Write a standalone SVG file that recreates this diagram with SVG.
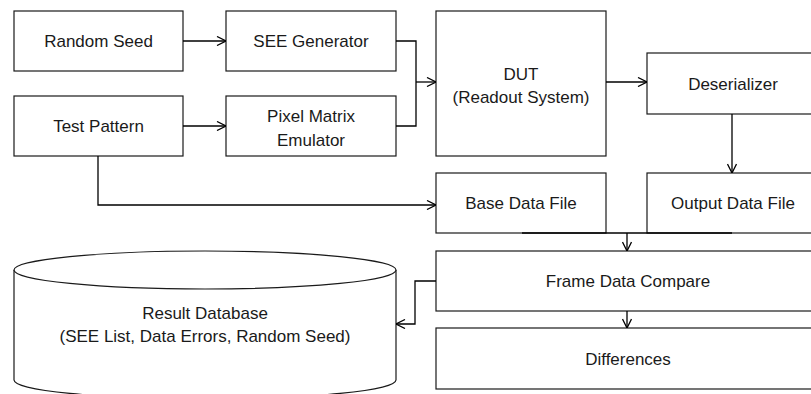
<svg xmlns="http://www.w3.org/2000/svg" width="811" height="394" viewBox="0 0 811 394">
<style>
.box{fill:#fff;stroke:#1a1a1a;stroke-width:1.2}
.t{font-family:"Liberation Sans",Arial,sans-serif;font-size:17px;fill:#1a1a1a;text-anchor:middle}
.c{fill:none;stroke:#000;stroke-width:1.3}
</style>
<defs>
<marker id="ah" viewBox="0 0 10 10" refX="10" refY="5" markerWidth="10" markerHeight="10" markerUnits="userSpaceOnUse" orient="auto">
<path d="M1,0.5 L10,5 L1,9.5" fill="none" stroke="#000" stroke-width="1.3"/>
</marker>
</defs>
<rect width="811" height="394" fill="#fff"/>
<g id="random-seed"><rect class="box" x="14" y="11" width="169" height="60"/><text class="t" x="98.5" y="47">Random Seed</text></g>
<g id="see-generator"><rect class="box" x="226" y="11" width="170" height="60"/><text class="t" x="311" y="47">SEE Generator</text></g>
<g id="test-pattern"><rect class="box" x="14" y="96" width="169" height="60"/><text class="t" x="98.5" y="132">Test Pattern</text></g>
<g id="pixel-matrix"><rect class="box" x="226" y="96" width="170" height="60"/><text class="t" x="311" y="122">Pixel Matrix</text><text class="t" x="311" y="146">Emulator</text></g>
<g id="dut"><rect class="box" x="436" y="11" width="170" height="145"/><text class="t" x="521" y="80">DUT</text><text class="t" x="521" y="103">(Readout System)</text></g>
<g id="deserializer"><rect class="box" x="647" y="53" width="172" height="61"/><text class="t" x="733" y="90">Deserializer</text></g>
<g id="base-data-file"><rect class="box" x="436" y="173" width="170" height="60"/><text class="t" x="521" y="209">Base Data File</text></g>
<g id="output-data-file"><rect class="box" x="647" y="173" width="172" height="60"/><text class="t" x="733" y="209">Output Data File</text></g>
<g id="frame-data-compare"><rect class="box" x="436" y="251" width="386" height="60"/><text class="t" x="628" y="287">Frame Data Compare</text></g>
<g id="differences"><rect class="box" x="436" y="328" width="386" height="61"/><text class="t" x="628" y="365">Differences</text></g>
<g id="result-database">
<path class="box" d="M14,270 L14,380 A191,19 0 0 0 396,380 L396,270"/>
<ellipse class="box" cx="205" cy="270" rx="191" ry="19"/>
<text class="t" x="205" y="319">Result Database</text>
<text class="t" x="205" y="342">(SEE List, Data Errors, Random Seed)</text>
</g>
<g id="connectors">
<path class="c" d="M183,41 H226" marker-end="url(#ah)"/>
<path class="c" d="M183,126 H226" marker-end="url(#ah)"/>
<path class="c" d="M396,41 H416 V126 H396"/>
<path class="c" d="M416,82 H436" marker-end="url(#ah)"/>
<path class="c" d="M606,82 H647" marker-end="url(#ah)"/>
<path class="c" d="M732,114 V173" marker-end="url(#ah)"/>
<path class="c" d="M98,156 V205 H436" marker-end="url(#ah)"/>
<path class="c" d="M522,233 H732"/>
<path class="c" d="M627,233 V251" marker-end="url(#ah)"/>
<path class="c" d="M627,311 V328" marker-end="url(#ah)"/>
<path class="c" d="M436,281 H415 V324 H396" marker-end="url(#ah)"/>
</g>
</svg>
